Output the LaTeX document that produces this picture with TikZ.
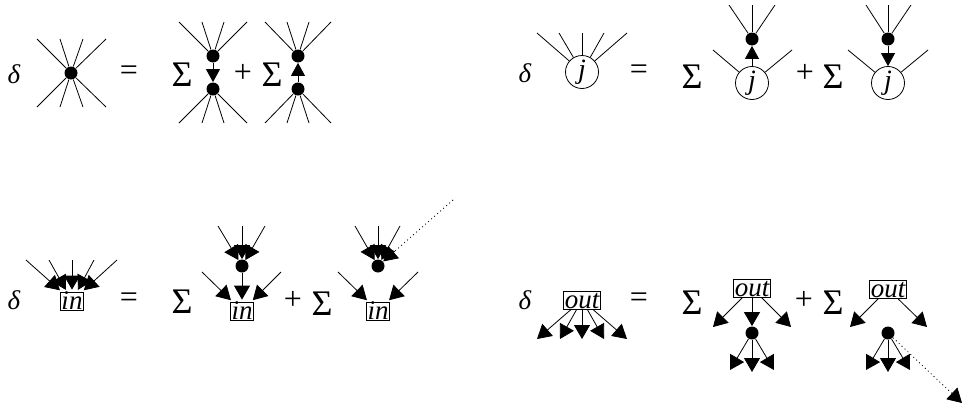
\documentclass[tikz,border=0pt]{standalone}
\usepackage{fontspec}
\setmainfont{Liberation Serif}
\usetikzlibrary{arrows.meta}
\begin{document}
\begin{tikzpicture}[x=1pt,y=-1pt,line width=0.8pt,
  >={Triangle[length=13pt,width=14pt]},
  txt/.style={inner sep=0pt,font=\fontsize{32}{32}\selectfont},
  dlt/.style={inner sep=0pt,font=\fontsize{27}{27}\selectfont\itshape},
  sig/.style={inner sep=0pt,font=\fontsize{36}{36}\selectfont},
  dotn/.style={circle,fill=black,inner sep=0pt,minimum size=13pt},
  jn/.style={circle,draw,inner sep=0pt,minimum size=33pt,font=\fontsize{28}{28}\selectfont\itshape},
  bx/.style={rectangle,draw,inner xsep=1.3pt,inner ysep=0.5pt,text height=16.5pt,text depth=0.5pt,font=\fontsize{27}{27}\selectfont\itshape},
  arr/.style={->},
  big/.style={-{Triangle[length=14pt,width=16pt]}},
  inarr/.style={big,shorten >=2pt},
  dots/.style={dash pattern=on 1pt off 3pt}]
\useasboundingbox (0,0) rectangle (962,407);

% ---------- Equation 1 ----------
\node[dlt] (d1) at (14,74) {δ};
\node[dotn] (v) at (71,73) {};
\coordinate (va1) at (37,39); \coordinate (va2) at (60,39); \coordinate (va3) at (83,39); \coordinate (va4) at (106,39);
\coordinate (vb1) at (37,107); \coordinate (vb2) at (60,107); \coordinate (vb3) at (83,107); \coordinate (vb4) at (106,107);
\foreach \c in {va1,va2,va3,va4,vb1,vb2,vb3,vb4} \draw (v) -- (\c);
\node[txt] (eq1) at (129,73) {=};
\node[sig] (s1) at (182,75) {Σ};
\node[dotn] (u1) at (213,56) {};
\node[dotn] (u2) at (213,89) {};
\draw[arr] (u1) -- (u2);
\coordinate (ua1) at (179,22); \coordinate (ua2) at (202,22); \coordinate (ua3) at (224,22); \coordinate (ua4) at (247,22);
\coordinate (ub1) at (179,123); \coordinate (ub2) at (202,123); \coordinate (ub3) at (224,123); \coordinate (ub4) at (247,123);
\foreach \c in {ua1,ua2,ua3,ua4} \draw (u1) -- (\c);
\foreach \c in {ub1,ub2,ub3,ub4} \draw (u2) -- (\c);
\node[txt] (p1) at (243,73) {+};
\node[sig] (s2) at (272,75) {Σ};
\node[dotn] (w1) at (298,56) {};
\node[dotn] (w2) at (298,89) {};
\draw[arr] (w2) -- (w1);
\coordinate (wa1) at (265,22); \coordinate (wa2) at (287,22); \coordinate (wa3) at (309,22); \coordinate (wa4) at (331,22);
\coordinate (wb1) at (265,123); \coordinate (wb2) at (287,123); \coordinate (wb3) at (309,123); \coordinate (wb4) at (331,123);
\foreach \c in {wa1,wa2,wa3,wa4} \draw (w1) -- (\c);
\foreach \c in {wb1,wb2,wb3,wb4} \draw (w2) -- (\c);

% ---------- Equation 2 ----------
\node[dlt] (d2) at (525,73) {δ};
\node[jn] (jc) at (582,72) {j};
\coordinate (ja1) at (537,33); \coordinate (ja2) at (559,33); \coordinate (ja3) at (582,33); \coordinate (ja4) at (604,33); \coordinate (ja5) at (627,33);
\foreach \c in {ja1,ja2,ja3,ja4,ja5} \draw (jc) -- (\c);
\node[txt] (eq2) at (639,72) {=};
\node[sig] (s3) at (692,77) {Σ};
\node[jn] (j2) at (752,83) {j};
\node[dotn] (dd2) at (752,39) {};
\draw[arr] (j2) -- (dd2);
\coordinate (ka1) at (729,5); \coordinate (ka2) at (752,5); \coordinate (ka3) at (775,5);
\foreach \c in {ka1,ka2,ka3} \draw (dd2) -- (\c);
\coordinate (kl) at (713,50); \coordinate (kr) at (792,50);
\draw (j2) -- (kl); \draw (j2) -- (kr);
\node[txt] (p2) at (805,73) {+};
\node[sig] (s4) at (833,77) {Σ};
\node[jn] (j3) at (888,83) {j};
\node[dotn] (dd3) at (888,39) {};
\draw[arr] (dd3) -- (j3);
\coordinate (ma1) at (866,5); \coordinate (ma2) at (888,5); \coordinate (ma3) at (911,5);
\foreach \c in {ma1,ma2,ma3} \draw (dd3) -- (\c);
\coordinate (ml) at (848,50); \coordinate (mr) at (928,50);
\draw (j3) -- (ml); \draw (j3) -- (mr);

% ---------- Equation 3 (in) ----------
\node[dlt] (d3) at (14,300) {δ};
\node[bx] (in1) at (72,301) {in};
\coordinate (ia1) at (26,260); \coordinate (ia2) at (49,260); \coordinate (ia3) at (72,260); \coordinate (ia4) at (94,260); \coordinate (ia5) at (117,260);
\foreach \c in {ia1,ia2,ia3,ia4,ia5} \draw[inarr] (\c) -- (in1);
\node[txt] (eq3) at (129,300) {=};
\node[sig] (s5) at (182,302) {Σ};
\node[dotn] (e1) at (242,266) {};
\node[bx] (in2) at (242,311) {in};
\draw[inarr] (e1) -- (in2);
\coordinate (ea1) at (218,226); \coordinate (ea2) at (242,226); \coordinate (ea3) at (265,226);
\foreach \c in {ea1,ea2,ea3} \draw[big] (\c) -- (e1);
\coordinate (el) at (202,272); \coordinate (er) at (281,272);
\draw[inarr] (el) -- (in2); \draw[inarr] (er) -- (in2);
\node[txt] (p3) at (293,300) {+};
\node[sig] (s6) at (322,304) {Σ};
\node[dotn] (e2) at (378,266) {};
\node[bx] (in3) at (378,311) {in};
\coordinate (ga1) at (355,226); \coordinate (ga2) at (378,226); \coordinate (ga3) at (400,226);
\foreach \c in {ga1,ga2,ga3} \draw[big] (\c) -- (e2);
\coordinate (gd) at (453,200);
\draw[big,dots] (gd) -- (e2);
\coordinate (gl) at (338,272); \coordinate (gr) at (418,272);
\draw[inarr] (gl) -- (in3); \draw[inarr] (gr) -- (in3);

% ---------- Equation 4 (out) ----------
\node[dlt] (d4) at (525,300) {δ};
\node[bx] (out1) at (582,300) {out};
\coordinate (oa1) at (537,339); \coordinate (oa2) at (560,339); \coordinate (oa3) at (582,339); \coordinate (oa4) at (604,339); \coordinate (oa5) at (627,339);
\foreach \c in {oa1,oa2,oa3,oa4,oa5} \draw[big] (out1) -- (\c);
\node[txt] (eq4) at (639,300) {=};
\node[sig] (s7) at (692,303) {Σ};
\node[bx] (out2) at (752,288) {out};
\node[dotn] (f1) at (752,333) {};
\draw[big] (out2) -- (f1);
\coordinate (ol) at (713,327); \coordinate (or) at (791,327);
\draw[big] (out2) -- (ol); \draw[big] (out2) -- (or);
\coordinate (fb1) at (730,370); \coordinate (fb2) at (752,372); \coordinate (fb3) at (774,370);
\foreach \c in {fb1,fb2,fb3} \draw[big] (f1) -- (\c);
\node[txt] (p4) at (804,300) {+};
\node[sig] (s8) at (833,303) {Σ};
\node[bx] (out3) at (888,289) {out};
\node[dotn] (f2) at (888,333) {};
\coordinate (ql) at (850,327); \coordinate (qr) at (927,327);
\draw[big] (out3) -- (ql); \draw[big] (out3) -- (qr);
\coordinate (hb1) at (866,370); \coordinate (hb2) at (888,372); \coordinate (hb3) at (910,370);
\foreach \c in {hb1,hb2,hb3} \draw[big] (f2) -- (\c);
\coordinate (hd) at (962,403);
\draw[big,dots] (f2) -- (hd);
\end{tikzpicture}
\end{document}
